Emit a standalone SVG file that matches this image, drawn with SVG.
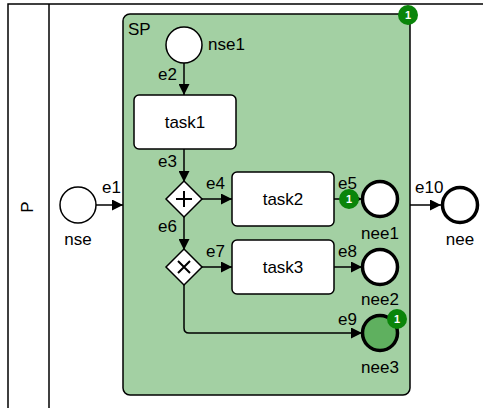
<svg xmlns="http://www.w3.org/2000/svg" width="483" height="408" viewBox="0 0 483 408">
<style>
text{font-family:"Liberation Sans",Arial,sans-serif;font-size:17px;fill:#000}
.mid{text-anchor:middle}
.task{fill:#fff;stroke:#000;stroke-width:1.5}
.start{fill:#fff;stroke:#000;stroke-width:1.5}
.end{fill:#fff;stroke:#000;stroke-width:3.5}
.gw{fill:#fff;stroke:#000;stroke-width:1.5}
.edge{fill:none;stroke:#000;stroke-width:1.5}
.badge{fill:#0a850a}
.bt{fill:#fff;font-size:11px;font-weight:bold;text-anchor:middle}
</style>
<defs>
<marker id="arr" viewBox="0 0 10 10" refX="10" refY="5" markerWidth="11" markerHeight="11" markerUnits="userSpaceOnUse" orient="auto">
<path d="M0,0 L10,5 L0,10 z" fill="#000"/>
</marker>
</defs>
<rect width="483" height="408" fill="#fff"/>
<g id="pool">
<rect x="8" y="4" width="490" height="420" fill="#fff" stroke="#000" stroke-width="1.5"/>
<line x1="49" y1="4" x2="49" y2="424" stroke="#000" stroke-width="1.5"/>
<text transform="translate(33,207) rotate(-90)" class="mid">P</text>
</g>
<g id="SP">
<rect x="123" y="14" width="287" height="381" rx="7" fill="#a3d0a3" stroke="#000" stroke-width="1.5"/>
<text x="128" y="35">SP</text>
</g>
<g id="connectors">
<line class="edge" x1="96" y1="205" x2="123" y2="205" marker-end="url(#arr)"/>
<text x="102" y="193">e1</text>
<line class="edge" x1="184" y1="63" x2="184" y2="95" marker-end="url(#arr)"/>
<text x="158" y="80">e2</text>
<line class="edge" x1="184" y1="149" x2="184" y2="182" marker-end="url(#arr)"/>
<text x="158" y="167">e3</text>
<line class="edge" x1="202" y1="199" x2="232" y2="199" marker-end="url(#arr)"/>
<text x="206" y="189">e4</text>
<line class="edge" x1="334" y1="199" x2="362" y2="199" marker-end="url(#arr)"/>
<text x="338" y="189">e5</text>
<line class="edge" x1="184" y1="217" x2="184" y2="250" marker-end="url(#arr)"/>
<text x="158" y="232">e6</text>
<line class="edge" x1="202" y1="267" x2="232" y2="267" marker-end="url(#arr)"/>
<text x="206" y="257">e7</text>
<line class="edge" x1="334" y1="267" x2="362" y2="267" marker-end="url(#arr)"/>
<text x="338" y="257">e8</text>
<path class="edge" d="M184,285 V328 Q184,333 189,333 H362" marker-end="url(#arr)"/>
<text x="338" y="325">e9</text>
<line class="edge" x1="410" y1="205" x2="441" y2="205" marker-end="url(#arr)"/>
<text x="415" y="193">e10</text>
</g>
<g id="nse">
<circle class="start" cx="78" cy="205" r="18"/>
<text class="mid" x="78" y="245">nse</text>
</g>
<g id="nse1">
<circle class="start" cx="184" cy="45" r="18"/>
<text x="208" y="50">nse1</text>
</g>
<g id="task1">
<rect class="task" x="134" y="95" width="102" height="54" rx="5"/>
<text class="mid" x="185" y="128">task1</text>
</g>
<g id="gw-parallel">
<path class="gw" d="M184,181 L202,199 L184,217 L166,199 z"/>
<path d="M184,191 V207 M176,199 H192" stroke="#000" stroke-width="2" fill="none"/>
</g>
<g id="task2">
<rect class="task" x="232" y="172" width="102" height="54" rx="5"/>
<text class="mid" x="283" y="205">task2</text>
</g>
<g id="gw-exclusive">
<path class="gw" d="M184,249 L202,267 L184,285 L166,267 z"/>
<path d="M178,261 L190,273 M190,261 L178,273" stroke="#000" stroke-width="2" fill="none"/>
</g>
<g id="task3">
<rect class="task" x="232" y="240" width="102" height="54" rx="5"/>
<text class="mid" x="283" y="273">task3</text>
</g>
<g id="nee1">
<circle class="end" cx="380" cy="199" r="17.5"/>
<text class="mid" x="380" y="239">nee1</text>
</g>
<g id="nee2">
<circle class="end" cx="380" cy="267" r="17.5"/>
<text class="mid" x="380" y="305">nee2</text>
</g>
<g id="nee3">
<circle class="end" cx="380" cy="333" r="17.5" style="fill:#5fb05f"/>
<text class="mid" x="380" y="373">nee3</text>
</g>
<g id="nee">
<circle class="end" cx="460" cy="205" r="17.5"/>
<text class="mid" x="460" y="245">nee</text>
</g>
<g id="badges">
<circle class="badge" cx="408" cy="15" r="10"/>
<text class="bt" x="408" y="19">1</text>
<circle class="badge" cx="349" cy="199" r="10"/>
<text class="bt" x="349" y="203">1</text>
<circle class="badge" cx="397" cy="319" r="10"/>
<text class="bt" x="397" y="323">1</text>
</g>
</svg>
